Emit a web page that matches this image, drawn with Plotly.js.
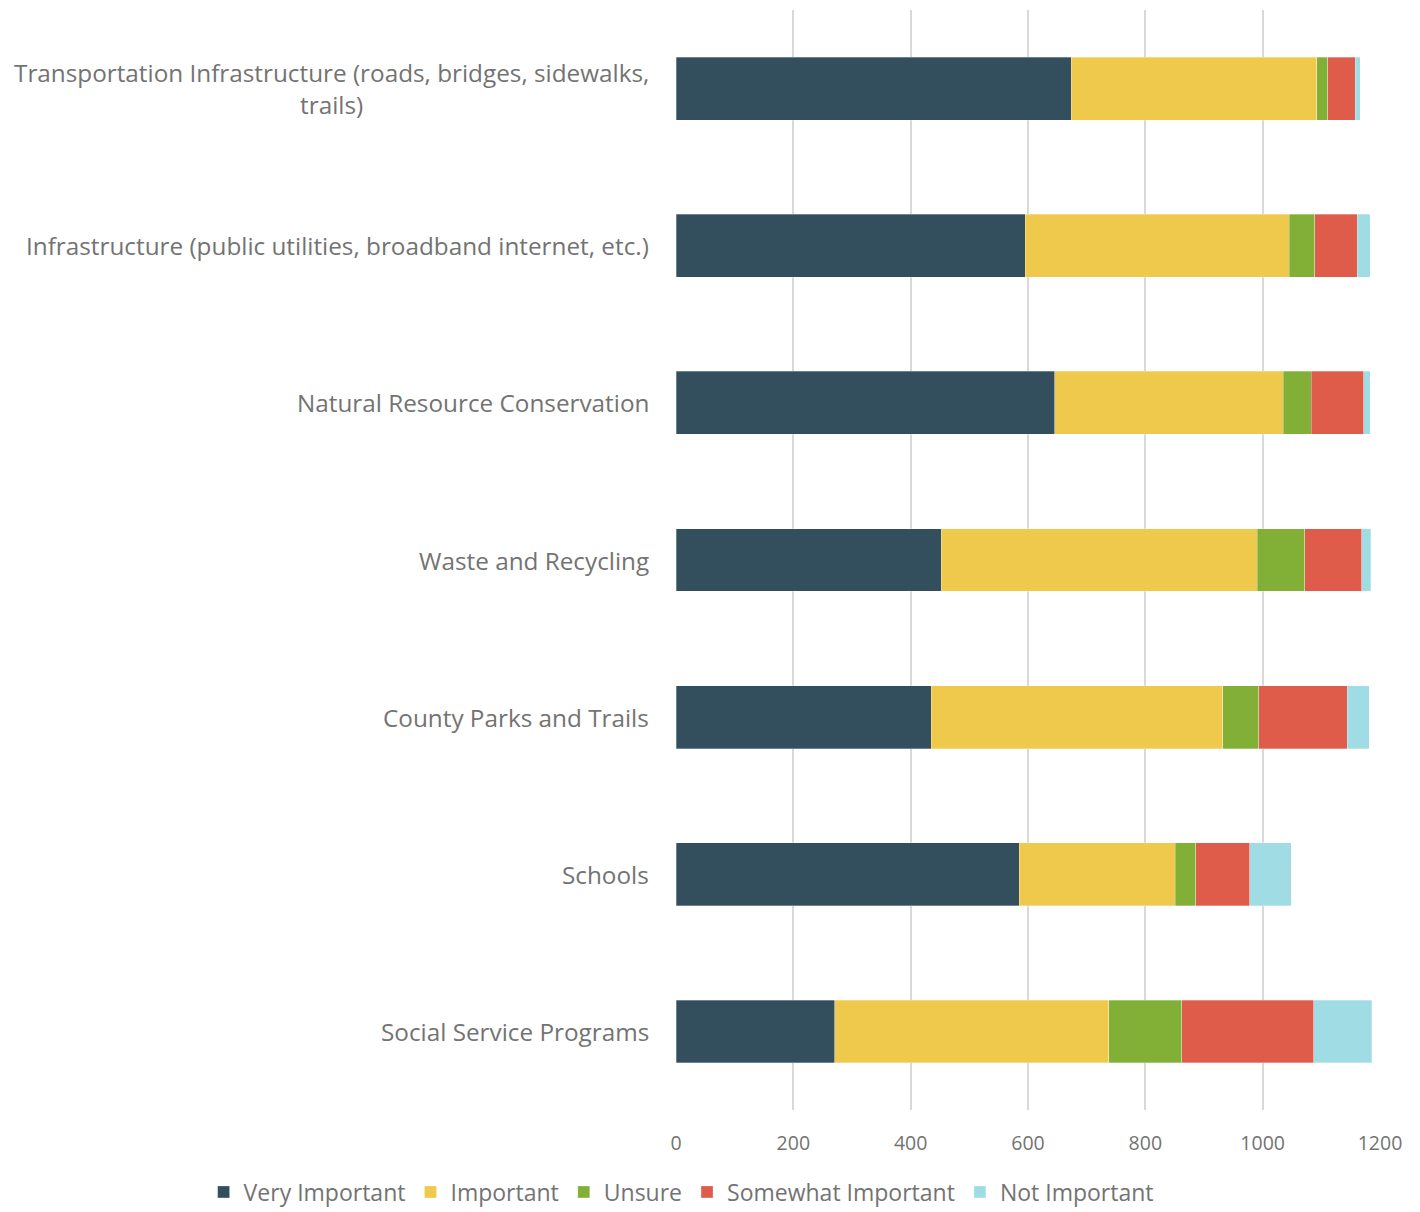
<!DOCTYPE html>
<html>
<head>
<meta charset="utf-8">
<script src="https://cdn.plot.ly/plotly-3.0.1.min.js"></script>
<style>html,body{margin:0;padding:0;background:#fff;}#chart{width:1420px;height:1212px;}</style>
</head>
<body>
<div id="chart"></div>
<script>
const categories = [
  "Transportation Infrastructure (roads, bridges, sidewalks,<br>trails)",
  "Infrastructure (public utilities, broadband internet, etc.)",
  "Natural Resource Conservation",
  "Waste and Recycling",
  "County Parks and Trails",
  "Schools",
  "Social Service Programs"
];
const seriesNames = ["Very Important", "Important", "Unsure", "Somewhat Important", "Not Important"];
const veryImportant     = [674, 595, 646, 452, 435, 585, 271];
const important         = [418, 450, 389, 539, 497, 266, 467];
const unsure            = [19, 44, 48, 81, 61, 35, 124];
const somewhatImportant = [47, 72, 89, 97, 151, 92, 225];
const notImportant      = [8, 22, 11, 15, 38, 71, 99];
const xTicks = [0, 200, 400, 600, 800, 1000, 1200];

const colors = ["#334E5C", "#EFC94C", "#82B037", "#E05C4A", "#A0DCE3"];
const values = [veryImportant, important, unsure, somewhatImportant, notImportant];

const traces = seriesNames.map((name, i) => ({
  type: "bar",
  orientation: "h",
  name: name,
  y: categories,
  x: values[i],
  marker: {color: colors[i], line: {color: "rgba(255,255,255,0.6)", width: 0.5}},
  hoverinfo: "x+name"
}));

const annotations = categories.map(c => ({
  xref: "paper", yref: "y",
  x: -0.036, y: c,
  xanchor: "right", yanchor: "middle",
  align: "center",
  text: c,
  showarrow: false,
  font: {family: "Open Sans, sans-serif", size: 24.3, color: "#737373"}
}));

const layout = {
  width: 1420, height: 1212,
  margin: {l: 676, r: 40, t: 10, b: 102, autoexpand: false},
  barmode: "stack",
  bargap: 0.6,
  paper_bgcolor: "#fff",
  plot_bgcolor: "#fff",
  font: {family: "Open Sans, sans-serif", color: "#737373"},
  xaxis: {
    range: [0, 1200],
    tickvals: xTicks,
    ticktext: xTicks.map(String),
    showgrid: true,
    gridcolor: "#d9d9d9",
    gridwidth: 2,
    zeroline: false,
    showline: false,
    ticks: "",
    tickfont: {size: 19.5, color: "#737373"},
    ticklabelstandoff: 19
  },
  yaxis: {
    type: "category",
    categoryorder: "array",
    categoryarray: categories,
    autorange: "reversed",
    showticklabels: false,
    showgrid: false,
    zeroline: false,
    ticks: ""
  },
  annotations: annotations,
  showlegend: true,
  legend: {
    orientation: "h",
    xref: "paper", yref: "paper",
    x: -0.671, y: -0.0745,
    xanchor: "left", yanchor: "middle",
    font: {size: 23, color: "#737373"},
    itemwidth: 30,
    tracegroupgap: 0,
    traceorder: "normal"
  }
};

Plotly.newPlot("chart", traces, layout, {displayModeBar: false, staticPlot: true});
</script>
</body>
</html>
